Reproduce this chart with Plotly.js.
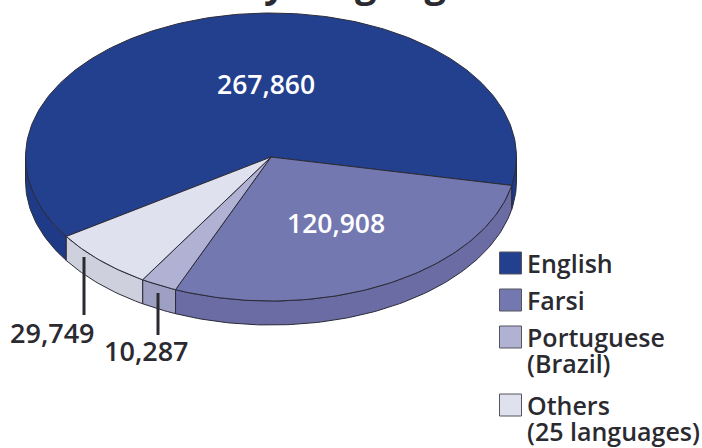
<!DOCTYPE html>
<html><head><meta charset="utf-8">
<script src="https://cdn.plot.ly/plotly-3.0.1.min.js"></script>
<style>html,body{margin:0;padding:0;background:#fff;overflow:hidden}#c{width:702px;height:448px}</style>
</head><body><div id="c"></div>
<script>
const categories = ['English','Farsi','Portuguese (Brazil)','Others (25 languages)'];
const values = [267860,120908,10287,29749];
const valueLabels = ['267,860','120,908','10,287','29,749'];
const topColors = ['#23408f','#7478b0','#b0b1d3','#e0e1ee'];
const sideColors = ['#1f3a87','#6a6ca3','#9d9fc3','#cfd0de'];
const legendLines = [['English'],['Farsi'],['Portuguese','(Brazil)'],['Others','(25 languages)']];
const legendY = [263,300,337,405];
const lineGap = 26;

const cx=271, cy=157, rx=245.5, ry=144, depth=24, startDeg=146.5;
const FONT='"Open Sans", sans-serif', INK='#2a2a30', EDGE='#2b2b38';
const total=values.reduce((a,b)=>a+b,0);
const pt=(deg,dz)=>[cx+rx*Math.cos(deg*Math.PI/180), cy+ry*Math.sin(deg*Math.PI/180)+dz];
const traces=[];

const order=[0,1,2,3];
let a=startDeg; const spans=[];
order.forEach(i=>{const s=values[i]/total*360; spans[i]=[a,a+s]; a+=s;});

function poly(name,xy,color){
  traces.push({type:'scatter',mode:'lines',x:xy.map(p=>p[0]),y:xy.map(p=>p[1]),fill:'toself',
    fillcolor:color,line:{color:EDGE,width:1},name:name,hoverinfo:'name',showlegend:false});
}
function sideRange(i,lo,hi){
  const s=Math.max(spans[i][0],lo), e=Math.min(spans[i][1],hi);
  if(e<=s) return;
  const up=[],dn=[];
  for(let d=s;d<e;d+=1){up.push(pt(d,0));dn.push(pt(d,depth));}
  up.push(pt(e,0));dn.push(pt(e,depth));
  poly(categories[i],up.concat(dn.reverse()).concat([up[0]]),sideColors[i]);
}
order.forEach(i=>{sideRange(i,0,180);sideRange(i,360,540);});
order.forEach(i=>{
  const xy=[[cx,cy]];
  for(let d=spans[i][0];d<spans[i][1];d+=1) xy.push(pt(d,0));
  xy.push(pt(spans[i][1],0)); xy.push([cx,cy]);
  poly(categories[i],xy,topColors[i]);
});
const leaders=[[[84,84],[257,315]],[[158,158],[293,335]]];
leaders.forEach(l=>traces.push({type:'scatter',mode:'lines',x:l[0],y:l[1],line:{color:INK,width:3},hoverinfo:'skip',showlegend:false}));
traces.push({type:'scatter',mode:'markers',x:categories.map(()=>510.5),y:legendY,
  marker:{symbol:'square',size:22,color:topColors,line:{color:'#55555f',width:1}},
  text:categories,hoverinfo:'text',showlegend:false});

const ann=[];
const T=(x,y,text,size,color,anchor)=>ann.push({x,y,xref:'x',yref:'y',text,showarrow:false,xanchor:anchor||'center',yanchor:'middle',
  font:{family:FONT,size,color,weight:600}});
T(266,84,valueLabels[0],26.5,'#ffffff');
T(336,223,valueLabels[1],26.5,'#ffffff');
T(52.5,332,valueLabels[3],27,INK);
T(146,350,valueLabels[2],27,INK);
legendLines.forEach((ls,i)=>ls.forEach((s,j)=>T(525,legendY[i]+j*lineGap,s,25,INK,'left')));
ann.push({xref:'paper',yref:'paper',x:0.504,y:1.041,xanchor:'center',yanchor:'middle',showarrow:false,text:'<b>by language</b>',
  font:{family:FONT,size:38,color:INK}});

Plotly.newPlot('c',traces,{
  width:702,height:448,margin:{l:0,r:0,t:0,b:0},paper_bgcolor:'#fff',plot_bgcolor:'#fff',
  xaxis:{range:[0,702],visible:false,fixedrange:true},
  yaxis:{range:[448,0],visible:false,fixedrange:true},
  showlegend:false,annotations:ann
},{displayModeBar:false});
</script></body></html>
